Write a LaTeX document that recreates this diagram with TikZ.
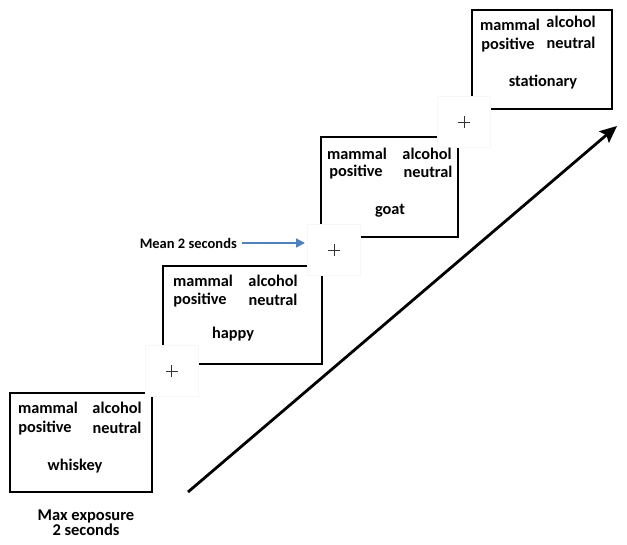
\documentclass[tikz,border=0pt]{standalone}
\usepackage{fontspec}
\setmainfont{Carlito}
\usetikzlibrary{arrows.meta}
\begin{document}
\begin{tikzpicture}[x=1pt,y=-1pt,
  stim/.style={draw=black,line width=1.8pt,fill=none},
  fixbox/.style={draw=black!3,line width=0.8pt,fill=white,minimum width=53pt,minimum height=51pt,inner sep=0pt},
  word/.style={font=\bfseries\fontsize{16.3}{18}\selectfont,inner sep=0pt,anchor=center},
  lab/.style={font=\bfseries\fontsize{14.5}{17}\selectfont,inner sep=0pt,align=center}]
\useasboundingbox (0,0) rectangle (627,545);
% stimulus boxes
\draw[stim] (10,393) rectangle (152,492);
\draw[stim] (163,266) rectangle (322,364);
\draw[stim] (321,137) rectangle (458,237);
\draw[stim] (472,10) rectangle (612,109);
% fixation squares
\node[fixbox] (f1) at (171.5,371) {};
\node[fixbox] (f2) at (334,250) {};
\node[fixbox] (f3) at (464,122) {};
\foreach \f in {f1,f2,f3}{
  \draw[line width=0.5pt,black!80] ([xshift=-6pt]\f.center) -- ([xshift=6pt]\f.center);
  \draw[line width=0.5pt,black!80] ([yshift=-6pt]\f.center) -- ([yshift=6pt]\f.center);
}
% box 1
\node[word] (a1) at (48,408) {mammal};
\node[word] (b1) at (117,408) {alcohol};
\node[word] (c1) at (45,428) {positive};
\node[word] (d1) at (117,428) {neutral};
\node[word] (e1) at (75,466) {whiskey};
% box 2
\node[word] (a2) at (203,281) {mammal};
\node[word] (b2) at (273,281) {alcohol};
\node[word] (c2) at (200,300) {positive};
\node[word] (d2) at (273,300) {neutral};
\node[word] (e2) at (233,334) {happy};
% box 3
\node[word] (a3) at (357,154) {mammal};
\node[word] (b3) at (427,154) {alcohol};
\node[word] (c3) at (356,172) {positive};
\node[word] (d3) at (428,172) {neutral};
\node[word] (e3) at (390,211) {goat};
% box 4
\node[word] (a4) at (510,25) {mammal};
\node[word] (b4) at (571,22) {alcohol};
\node[word] (c4) at (508,45) {positive};
\node[word] (d4) at (571,43) {neutral};
\node[word] (e4) at (543,82) {stationary};
% labels
\node[lab,anchor=east] (mean) at (237,243) {Mean 2 seconds};
\coordinate (mtip) at (305,243);
\draw[-{Stealth[length=9pt,width=9pt,inset=0pt]},line width=1.6pt,color={rgb,255:red,79;green,129;blue,189}] ([xshift=5pt]mean.east) -- (mtip);
\node[lab,font=\bfseries\fontsize{16.5}{17}\selectfont] (max) at (86,523) {Max exposure\\[-2pt]2 seconds};
% time arrow
\coordinate (ts) at (188,492);
\coordinate (te) at (617,126);
\draw[-{Stealth[length=17pt,width=15pt,inset=3pt]},line width=2.8pt] (ts) -- (te);
\end{tikzpicture}
\end{document}
